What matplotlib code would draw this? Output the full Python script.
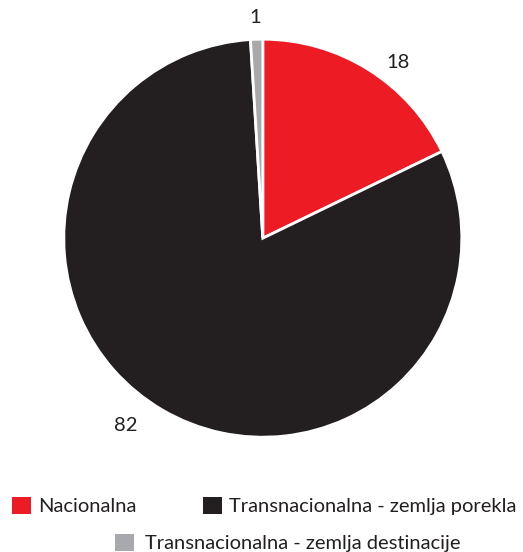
import matplotlib.pyplot as plt
from matplotlib.patches import Patch

plt.rcParams['font.family'] = ['Lato', 'DejaVu Sans']

categories = ["Nacionalna", "Transnacionalna - zemlja porekla", "Transnacionalna - zemlja destinacije"]
values = [18, 82, 1]
colors = ["#ED1C24", "#231F20", "#A7A9AC"]

fig = plt.figure(figsize=(5.23, 5.52), dpi=100)
ax = fig.add_axes([0.122, 0.208, 0.761, 0.721])

wedges, texts = ax.pie(values, labels=[str(v) for v in values], colors=colors,
                       startangle=90, counterclock=False, labeldistance=1.12,
                       wedgeprops=dict(edgecolor="white", linewidth=2),
                       textprops=dict(fontsize=14.5, color="#231F20"))
# small nudges so the value labels sit where the original has them
nudges = [(0.025, -0.065), (-0.065, 0.025), (0.025, -0.01)]
for t, (dx, dy) in zip(texts, nudges):
    x, y = t.get_position()
    t.set_position((x + dx, y + dy))

ax.set_xlim(-1, 1)
ax.set_ylim(-1, 1)
ax.set_aspect("equal")

handles = [Patch(facecolor=c, edgecolor="none") for c in colors]

fig.legend(handles[:2], categories[:2], loc="center", bbox_to_anchor=(0.505, 0.083),
           ncol=2, frameon=False, fontsize=14.5, handlelength=0.95, handleheight=0.95,
           handletextpad=0.35, columnspacing=3.3, borderaxespad=0, labelcolor="#231F20")
fig.legend(handles[2:], categories[2:], loc="center", bbox_to_anchor=(0.55, 0.016),
           ncol=1, frameon=False, fontsize=14.5, handlelength=0.95, handleheight=0.95,
           handletextpad=0.5, borderaxespad=0, labelcolor="#231F20")

fig.savefig("out.png", dpi=100)
